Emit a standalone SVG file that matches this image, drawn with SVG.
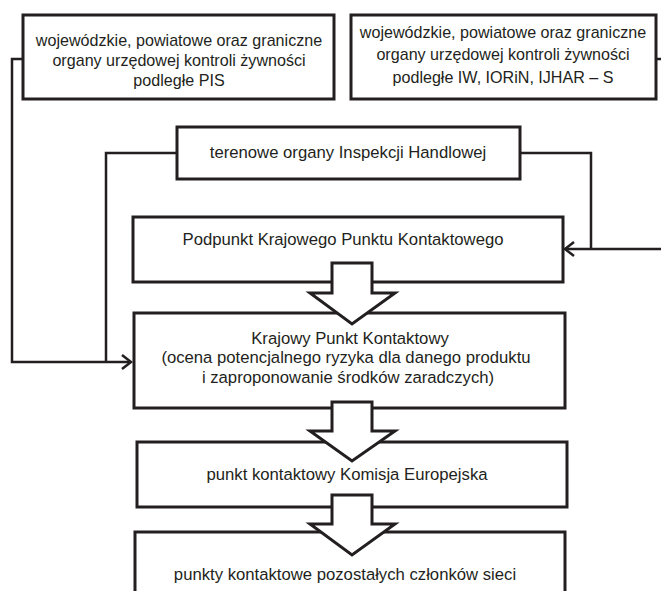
<svg xmlns="http://www.w3.org/2000/svg" width="661" height="591" viewBox="0 0 661 591">
<style>
.box{fill:#fff;stroke:#231f20;stroke-width:3}
.conn{fill:none;stroke:#231f20;stroke-width:2.5}
.fat{fill:#fff;stroke:#231f20;stroke-width:3;stroke-linejoin:miter}
text{font-family:"Liberation Sans",Arial,sans-serif;font-size:16.7px;fill:#231f20;text-anchor:middle}
.top{font-size:16.1px}
</style>
<defs>
<marker id="chev" markerUnits="userSpaceOnUse" markerWidth="14" markerHeight="18" refX="10" refY="8" orient="auto" overflow="visible">
<path d="M1,1 L10,8 L1,15" fill="none" stroke="#231f20" stroke-width="2.5"/>
</marker>
</defs>
<rect width="661" height="591" fill="#fff"/>
<g id="connectors">
<path class="conn" d="M23,59 H12 V362 H131" marker-end="url(#chev)"/>
<path class="conn" d="M177,153 H106 V362"/>
<path class="conn" d="M520,153 H591 V249"/>
<path class="conn" d="M661,249 H565" marker-end="url(#chev)"/>
<path class="conn" d="M656,59 H661"/>
</g>
<g id="n1">
<rect class="box" x="23" y="15" width="311" height="84"/>
<text class="top" x="179" y="46">wojewódzkie, powiatowe oraz graniczne</text>
<text class="top" x="179" y="66">organy urzędowej kontroli żywności</text>
<text class="top" x="179" y="86">podległe PIS</text>
</g>
<g id="n2">
<rect class="box" x="351" y="15" width="305" height="84"/>
<text class="top" x="503" y="38">wojewódzkie, powiatowe oraz graniczne</text>
<text class="top" x="503" y="60">organy urzędowej kontroli żywności</text>
<text class="top" x="503" y="83">podległe IW, IORiN, IJHAR – S</text>
</g>
<g id="n3">
<rect class="box" x="177" y="127" width="343" height="52"/>
<text x="348" y="158">terenowe organy Inspekcji Handlowej</text>
</g>
<g id="n4">
<rect class="box" x="133" y="217" width="430" height="65"/>
<text x="343" y="245">Podpunkt Krajowego Punktu Kontaktowego</text>
</g>
<g id="n5">
<rect class="box" x="134" y="313" width="431" height="95"/>
<text x="350" y="344">Krajowy Punkt Kontaktowy</text>
<text x="346" y="363">(ocena potencjalnego ryzyka dla danego produktu</text>
<text x="348" y="383">i zaproponowanie środków zaradczych)</text>
</g>
<g id="n6">
<rect class="box" x="137" y="442" width="430" height="65"/>
<text x="347" y="480">punkt kontaktowy Komisja Europejska</text>
</g>
<g id="n7">
<rect class="box" x="135" y="532" width="430" height="70"/>
<text x="345" y="580">punkty kontaktowe pozostałych członków sieci</text>
</g>
<g id="fat-arrows">
<path class="fat" d="M332,263 H372 V293 H395 L352,324 L310,293 H332 Z"/>
<path class="fat" d="M332,402 H372 V431 H395 L352,461 L310,431 H332 Z"/>
<path class="fat" d="M332,495 H372 V524 H395 L352,555 L310,524 H332 Z"/>
</g>
</svg>
